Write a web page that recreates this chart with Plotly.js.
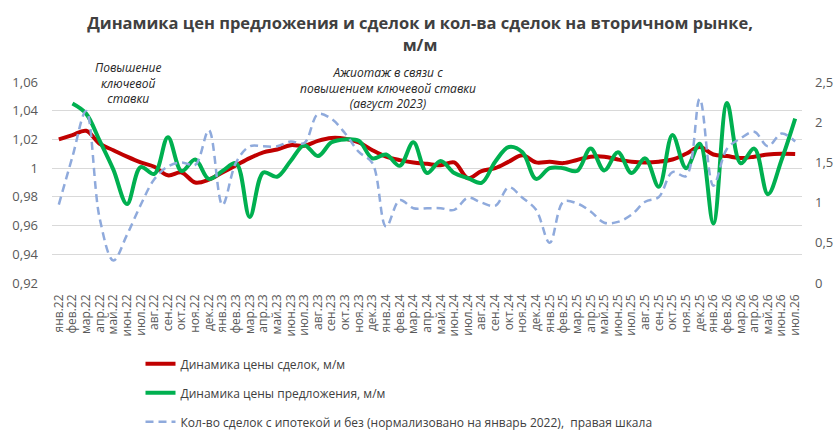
<!DOCTYPE html>
<html>
<head>
<meta charset="utf-8">
<script src="https://cdn.plot.ly/plotly-3.0.1.min.js"></script>
<style>
  body { margin: 0; background: #fff; }
  #chart { width: 840px; height: 448px; }
</style>
</head>
<body>
<div id="chart"></div>
<script>
// месяцы (ось X)
const months = [
  'янв.22','фев.22','мар.22','апр.22','май.22','июн.22','июл.22','авг.22','сен.22','окт.22','ноя.22','дек.22',
  'янв.23','фев.23','мар.23','апр.23','май.23','июн.23','июл.23','авг.23','сен.23','окт.23','ноя.23','дек.23',
  'янв.24','фев.24','мар.24','апр.24','май.24','июн.24','июл.24','авг.24','сен.24','окт.24','ноя.24','дек.24',
  'янв.25','фев.25','мар.25','апр.25','май.25','июн.25','июл.25','авг.25','сен.25','окт.25','ноя.25','дек.25',
  'янв.26','фев.26','мар.26','апр.26','май.26','июн.26','июл.26'
];

// динамика цены сделок, м/м (левая шкала)
const dealPrice = [
  1.020, 1.023, 1.026, 1.017, 1.0125, 1.008, 1.004, 1.001, 0.995, 0.997, 0.990, 0.992,
  0.997, 1.002, 1.007, 1.011, 1.013, 1.016, 1.0155, 1.019, 1.021, 1.0205, 1.018, 1.0125,
  1.008, 1.0056, 1.004, 1.003, 1.002, 1.004, 0.993, 0.998, 1.000, 1.0045, 1.009, 1.004,
  1.0045, 1.0035, 1.0057, 1.008, 1.008, 1.006, 1.0045, 1.004, 1.0045, 1.006, 1.010, 1.0147,
  1.0095, 1.0084, 1.007, 1.008, 1.0095, 1.010, 1.0098
];

// динамика цены предложения, м/м (левая шкала), с фев.22
const offerPrice = [
  null, 1.045, 1.038, 1.019, 0.999, 0.975, 1.0007, 0.996, 1.0215, 0.998, 1.006, 0.9925,
  0.998, 1.0034, 0.966, 0.997, 0.994, 1.005, 1.016, 1.0084, 1.018, 1.020, 1.019, 1.0068,
  1.0095, 1.0016, 1.018, 0.9966, 1.005, 0.9966, 0.993, 0.9898, 1.0045, 1.0147, 1.011, 0.9925,
  1.000, 1.000, 0.998, 1.0136, 0.9984, 1.011, 0.9966, 1.0068, 0.987, 1.0231, 1.000, 1.017,
  0.9615, 1.0453, 1.0034, 1.0136, 0.9819, 1.0057, 1.0345
];

// кол-во сделок, нормализовано на январь 2022 (правая шкала)
const dealCount = [
  0.975, 1.57, 2.14, 0.80, 0.28, 0.60, 0.97, 1.29, 1.45, 1.50, 1.47, 1.90,
  0.97, 1.50, 1.70, 1.70, 1.70, 1.76, 1.74, 2.10, 2.04, 1.86, 1.63, 1.49,
  0.70, 1.03, 0.93, 0.93, 0.93, 0.91, 1.06, 1.00, 0.96, 1.19, 1.06, 0.91,
  0.50, 1.01, 0.99, 0.89, 0.75, 0.76, 0.85, 1.01, 1.07, 1.38, 1.33, 2.29,
  1.21, 1.67, 1.80, 1.88, 1.70, 1.86, 1.76
];

// подписи шкал
const leftTicks = [0.92, 0.94, 0.96, 0.98, 1, 1.02, 1.04, 1.06];
const leftLabels = ['0,92', '0,94', '0,96', '0,98', '1', '1,02', '1,04', '1,06'];
const rightTicks = [0, 0.5, 1, 1.5, 2, 2.5];
const rightLabels = ['0', '0,5', '1', '1,5', '2', '2,5'];

const font = 'Open Sans, sans-serif';

const traces = [
  {
    x: months, y: dealPrice, name: 'Динамика цены сделок, м/м',
    type: 'scatter', mode: 'lines', legendgroup: 'a',
    line: {color: '#C00000', width: 4, shape: 'spline', smoothing: 1}
  },
  {
    x: months, y: offerPrice, name: 'Динамика цены предложения, м/м',
    type: 'scatter', mode: 'lines', legendgroup: 'b',
    line: {color: '#00B050', width: 4, shape: 'spline', smoothing: 1}
  },
  {
    x: months, y: dealCount, yaxis: 'y2',
    name: 'Кол-во сделок с ипотекой и без (нормализовано на январь 2022),  правая шкала',
    type: 'scatter', mode: 'lines', legendgroup: 'c',
    line: {color: '#8FAADC', width: 2.5, dash: '8px,5px', shape: 'spline', smoothing: 1}
  }
];

const layout = {
  width: 840, height: 448,
  margin: {l: 52, r: 38, t: 82, b: 160},
  paper_bgcolor: '#fff', plot_bgcolor: '#fff',
  font: {family: font, color: '#595959', size: 12},
  title: {
    text: '<b>Динамика цен предложения и сделок и кол-ва сделок на вторичном рынке,<br>м/м</b>',
    font: {family: font, size: 16.5, color: '#404040'},
    x: 0.5, xanchor: 'center', y: 0.935, yanchor: 'top', yref: 'container'
  },
  showlegend: true,
  legend: {
    orientation: 'v', x: 0.118, xanchor: 'left', y: -0.33, yanchor: 'top',
    font: {family: font, size: 12, color: '#404040'},
    tracegroupgap: 10, bgcolor: 'rgba(0,0,0,0)'
  },
  xaxis: {
    type: 'category', range: [-0.5, months.length - 0.5], automargin: false,
    tickmode: 'array', tickvals: months, ticktext: months,
    tickangle: -90, showgrid: false, zeroline: false, showline: false,
    ticks: '', ticklabelstandoff: 8, tickfont: {size: 12, color: '#595959'}
  },
  yaxis: {
    range: [0.92, 1.06], tickvals: leftTicks, ticktext: leftLabels, automargin: false,
    showgrid: true, gridcolor: '#D9D9D9', gridwidth: 1, zeroline: false,
    ticks: '', ticklabelstandoff: 13, tickfont: {size: 13, color: '#595959'}
  },
  yaxis2: {
    overlaying: 'y', side: 'right', range: [0, 2.5], automargin: false,
    tickvals: rightTicks, ticktext: rightLabels,
    showgrid: false, zeroline: false, ticks: '', ticklabelstandoff: 12,
    tickfont: {size: 13, color: '#595959'}
  },
  annotations: [
    {
      xref: 'paper', yref: 'paper', x: 0.101, y: 0.995, xanchor: 'center', yanchor: 'middle',
      text: '<i>Повышение<br>ключевой<br>ставки</i>', showarrow: false,
      font: {family: font, size: 12, color: '#262626'}
    },
    {
      xref: 'paper', yref: 'paper', x: 0.448, y: 0.97, xanchor: 'center', yanchor: 'middle',
      text: '<i>Ажиотаж в связи с<br>повышением ключевой ставки<br>(август 2023)</i>', showarrow: false,
      font: {family: font, size: 12, color: '#262626'}
    }
  ]
};

Plotly.newPlot('chart', traces, layout, {displayModeBar: false, staticPlot: true});
</script>
</body>
</html>
